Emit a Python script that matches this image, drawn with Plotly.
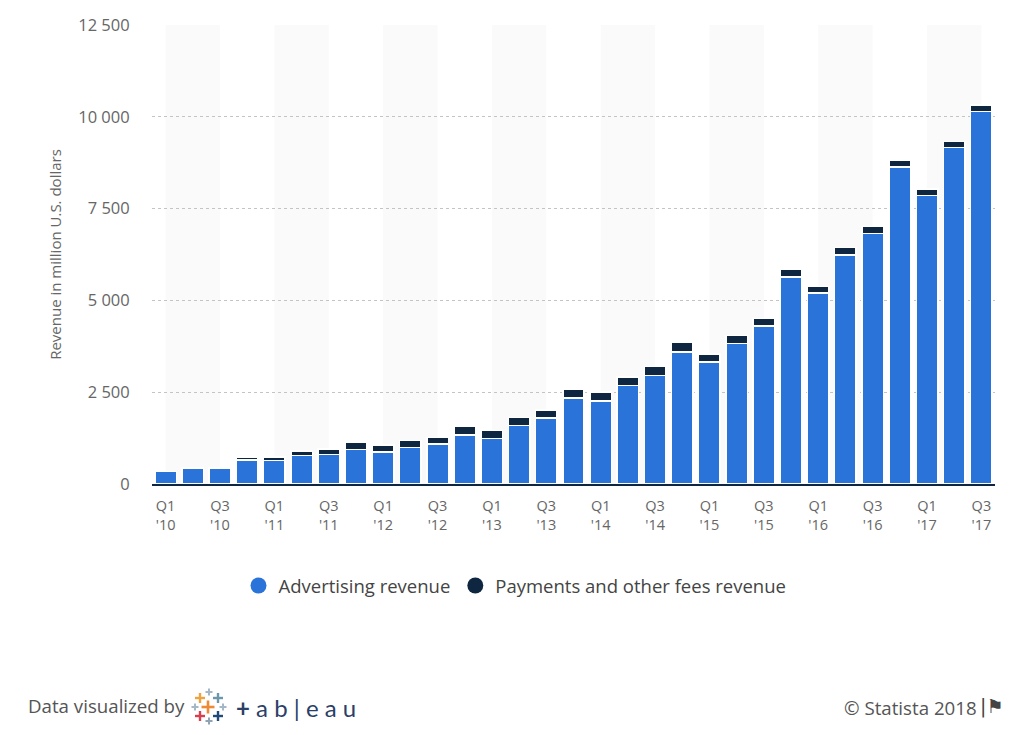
import plotly.graph_objects as go

quarters = ["Q1", "Q2", "Q3", "Q4"]
years = ["10", "11", "12", "13", "14", "15", "16", "17"]
categories = [f"{q}<br>'{y}" for y in years for q in quarters][:31]
advertising = [345, 431, 431, 660, 637, 776, 798, 943, 872, 992, 1086, 1329, 1245, 1599, 1798, 2344,
               2265, 2676, 2957, 3594, 3317, 3827, 4299, 5637, 5201, 6239, 6816, 8629, 7857, 9164, 10142]
payments = [0, 0, 0, 70, 94, 119, 156, 188, 186, 192, 176, 256, 213, 214, 218, 241,
            237, 234, 246, 257, 226, 215, 202, 204, 181, 197, 195, 180, 175, 157, 186]
y_ticks = [0, 2500, 5000, 7500, 10000, 12500]
y_labels = ["0", "2 500", "5 000", "7 500", "10 000", "12 500"]
series_names = ["Advertising revenue", "Payments and other fees revenue"]
blue, navy = "#2a74d9", "#0f2640"

W, H = 1024, 735
L, R, T, B = 152, 29, 25, 251
PW, PH = W - L - R, H - T - B


def px(x):
    return (x - L) / PW


def py(y):
    return 1 - (y - T) / PH


fig = go.Figure()
fig.add_bar(x=categories, y=advertising, name=series_names[0], showlegend=False,
            marker=dict(color=blue, line=dict(color="white", width=1.5)))
fig.add_bar(x=categories, y=payments, name=series_names[1], showlegend=False,
            marker=dict(color=navy, line=dict(color="white", width=1.5)))
for name, col in zip(series_names, [blue, navy]):
    fig.add_scatter(x=[None], y=[None], mode="markers", name=name,
                    marker=dict(color=col, size=18, symbol="circle"))

shapes = [dict(type="rect", layer="below", xref="x", yref="paper", x0=i, x1=i + 2, y0=0, y1=1,
               fillcolor="#fafafa", line_width=0) for i in range(0, 31, 4)]

# Tableau logo: coloured crosses drawn as pairs of thin rectangles
logo = [(200, 698, "#efa340", 5, 1.2), (209, 692, "#a3b7c6", 3.5, 1), (218, 698, "#6d97ab", 5, 1.2),
        (195, 707, "#a3b7c6", 3.5, 1), (208, 707, "#ee8a33", 6.5, 1.3), (223, 707, "#a3b7c6", 3.5, 1),
        (200, 716, "#d8404f", 5, 1.2), (209, 721, "#8fa3b5", 3.5, 1), (218, 716, "#1f4a7a", 5, 1.2)]
for x, y, c, arm, t in logo:
    for dx, dy in [(arm, t), (t, arm)]:
        shapes.append(dict(type="rect", xref="paper", yref="paper", x0=px(x - dx), x1=px(x + dx),
                           y0=py(y + dy), y1=py(y - dy), fillcolor=c, line_width=0))

grey = "#666666"
annotations = [
    dict(text="Data visualized by", x=px(27), y=py(705), xanchor="left", yanchor="middle",
         font=dict(size=18.7, color="#555555")),
    dict(text="© Statista 2018", x=px(978), y=py(707), xanchor="right", yanchor="middle",
         font=dict(size=18.7, color="#555555")),
    dict(text="|⚑", x=px(1004), y=py(706), xanchor="right", yanchor="middle",
         font=dict(size=19, color="#444444", family="DejaVu Sans")),
    dict(text="<b>+</b> a b | e a u", x=px(235), y=py(707), xanchor="left", yanchor="middle",
         font=dict(size=24, color="#2b3f68", family="Lato")),
]
for a in annotations:
    a.update(xref="paper", yref="paper", showarrow=False, borderpad=0)

fig.update_layout(
    width=W, height=H, barmode="stack", bargap=0.21,
    margin=dict(l=L, r=R, t=T, b=B, pad=0), paper_bgcolor="white", plot_bgcolor="white",
    font=dict(family="Open Sans", color=grey, size=15),
    shapes=shapes, annotations=annotations,
    legend=dict(orientation="h", x=px(515), xanchor="center", y=py(586), yanchor="middle",
                traceorder="normal", font=dict(size=18.5, color="#444444"), itemsizing="trace"),
    xaxis=dict(type="category", dtick=2, showgrid=False, showline=True, linecolor="#0f2640",
               linewidth=2, ticks="", tickfont=dict(size=14.5, color=grey), tickangle=0,
               ticklabelstandoff=8, range=[-0.5, 30.5]),
    yaxis=dict(range=[0, 12500], tickvals=y_ticks, ticktext=y_labels, showline=False, ticks="outside",
               ticklen=18, tickcolor="rgba(0,0,0,0)", zeroline=False, gridcolor="#c4c4c4", griddash="dot",
               gridwidth=1, tickfont=dict(size=16.5, color=grey),
               title=dict(text="Revenue in million U.S. dollars", standoff=12,
                          font=dict(size=15, color=grey))),
)
fig.write_html("out.html", config=dict(displayModeBar=False), post_script="document.body.style.margin='0';")
